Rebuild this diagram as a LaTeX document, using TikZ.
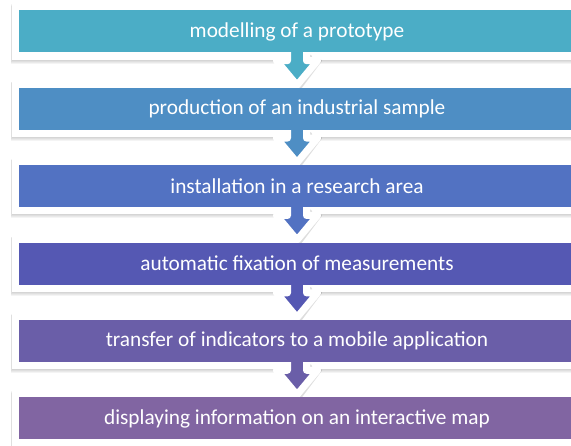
\documentclass[tikz,border=0pt]{standalone}
\usepackage{fontspec}
\setmainfont{Carlito}
\usetikzlibrary{calc}
\pgfdeclarelayer{shadowlayer}
\pgfdeclarelayer{framelayer}
\pgfdeclarelayer{arrowlayer}
\pgfsetlayers{shadowlayer,framelayer,arrowlayer,main}
\definecolor{cA}{HTML}{4BADC6}
\definecolor{cB}{HTML}{4E8EC4}
\definecolor{cC}{HTML}{5272C2}
\definecolor{cD}{HTML}{5558B3}
\definecolor{cE}{HTML}{6A5EA8}
\definecolor{cF}{HTML}{8165A2}
\tikzset{
  stepbox/.style={minimum width=556pt, minimum height=42pt, inner sep=0pt, text=white, font=\fontsize{21.3}{25}\selectfont},
  downarrow/.style={line width=7pt, draw=white, line join=round},
  arrowshadow/.style={fill=black, opacity=0.13, rounded corners=2pt},
  frameshadow/.style={fill=black, opacity=0.045},
}
\begin{document}
\begin{tikzpicture}[x=1pt,y=-1pt]
\useasboundingbox (0,0) rectangle (571,446);
\clip (0,0) rectangle (571,446);
\node[stepbox, fill=cA] (s1) at (297,31.5) {modelling of a prototype};
\node[stepbox, fill=cB] (s2) at (297,108.9) {production of an industrial sample};
\node[stepbox, fill=cC] (s3) at (297,186.3) {installation in a research area};
\node[stepbox, fill=cD] (s4) at (297,263.7) {automatic fixation of measurements};
\node[stepbox, fill=cE] (s5) at (297,341.1) {transfer of indicators to a mobile application};
\node[stepbox, fill=cF] (s6) at (297,418.5) {displaying information on an interactive map};
\begin{pgfonlayer}{shadowlayer}
  \foreach \i in {1,...,6}
    \foreach \k in {1,...,4}
      \fill[frameshadow] ($(s\i.north west)+(-7-0.3*\k,-7+0.6*\k)$) rectangle ($(s\i.south east)+(7,7+\k)$);
\end{pgfonlayer}
\begin{pgfonlayer}{framelayer}
  \foreach \i in {1,...,6}
    \fill[white] ($(s\i.north west)+(-7,-7)$) rectangle ($(s\i.south east)+(7,7)$);
\end{pgfonlayer}
\begin{pgfonlayer}{arrowlayer}
  \foreach \i/\c in {1/cA,2/cB,3/cC,4/cD,5/cE}{
    \begin{scope}[shift={(s\i.south)}]
      \fill[arrowshadow] (-11,2) -- (-11,7) -- (-22,7) -- (2,39) -- (26,7) -- (15,7) -- (15,2) -- cycle;
      \filldraw[fill=\c, downarrow] (-9.5,-6) -- (-9.5,8) -- (-20.5,8) -- (0,32.5) -- (20.5,8) -- (9.5,8) -- (9.5,-6);
    \end{scope}
  }
\end{pgfonlayer}
\end{tikzpicture}
\end{document}
